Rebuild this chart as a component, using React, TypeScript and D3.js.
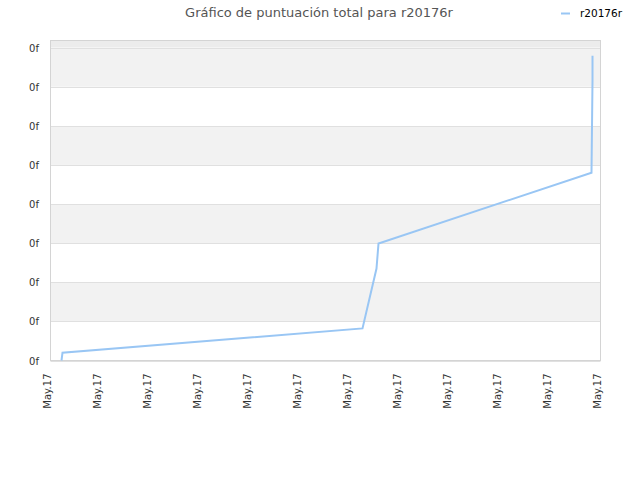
import { useEffect, useRef } from 'react';
import * as d3 from 'd3';

const titleText = 'Gráfico de puntuación total para r20176r';
const seriesName = 'r20176r';
const xTickLabels = ['May.17', 'May.17', 'May.17', 'May.17', 'May.17', 'May.17', 'May.17', 'May.17', 'May.17', 'May.17', 'May.17', 'May.17'];
const yTickLabels = ['0f', '0f', '0f', '0f', '0f', '0f', '0f', '0f', '0f'];
// x in tick units, y in grid units
const seriesX = [0.22, 0.24, 6.24, 6.52, 6.56, 10.82, 10.84, 10.84];
const seriesY = [0, 0.2, 0.82, 2.35, 2.99, 4.8, 7.15, 7.79];

const colors = {
  line: '#99c6f4',
  band: '#f2f2f2',
  grid: '#e0e0e0',
  border: '#d4d4d4',
  text: '#333333',
  title: '#555555',
};

export default function App() {
  const ref = useRef<SVGSVGElement>(null);

  useEffect(() => {
    const svg = d3.select(ref.current);
    svg.selectAll('*').remove();
    const left = 50.5;
    const right = 600.5;
    const top = 40.5;
    const bottom = 360.5;

    const x = d3.scaleLinear().domain([0, xTickLabels.length - 1]).range([left, right]);
    const y = d3.scaleLinear().domain([0, 8.18]).range([bottom, top]);
    const yTicks = d3.range(yTickLabels.length);

    // bands
    const bandEdges = [...yTicks, 8.18];
    svg
      .append('g')
      .selectAll('rect')
      .data(bandEdges.slice(0, -1))
      .enter()
      .append('rect')
      .attr('x', left)
      .attr('width', right - left)
      .attr('y', d => y(bandEdges[d + 1]))
      .attr('height', d => y(d) - y(bandEdges[d + 1]))
      .attr('fill', d => (d % 2 === 1 ? colors.band : 'white'));
    svg
      .append('rect')
      .attr('x', left)
      .attr('width', right - left)
      .attr('y', top)
      .attr('height', y(8) - top)
      .attr('fill', '#ececec');

    // gridlines
    svg
      .append('g')
      .selectAll('line')
      .data(yTicks)
      .enter()
      .append('line')
      .attr('x1', left)
      .attr('x2', right)
      .attr('y1', d => Math.round(y(d)) + 0.5)
      .attr('y2', d => Math.round(y(d)) + 0.5)
      .attr('stroke', colors.grid);

    // frame
    svg
      .append('rect')
      .attr('x', left)
      .attr('y', top)
      .attr('width', right - left)
      .attr('height', bottom - top)
      .attr('fill', 'none')
      .attr('stroke', colors.border);

    // y labels
    svg
      .append('g')
      .selectAll('text')
      .data(yTicks)
      .enter()
      .append('text')
      .attr('x', 39)
      .attr('y', d => Math.round(y(d)) + 4)
      .attr('text-anchor', 'end')
      .style('font-family', 'DejaVu Sans')
      .style('font-size', '10px')
      .attr('fill', colors.text)
      .text(d => yTickLabels[d]);

    // x labels
    svg
      .append('g')
      .selectAll('text')
      .data(xTickLabels)
      .enter()
      .append('text')
      .attr('transform', (d, i) => `translate(${x(i)},${bottom + 13}) rotate(-90)`)
      .attr('text-anchor', 'end')
      .style('font-family', 'DejaVu Sans')
      .style('font-size', '10px')
      .attr('fill', colors.text)
      .text(d => d);

    // series
    const line = d3
      .line<number>()
      .x((d, i) => x(seriesX[i]))
      .y(d => y(d));
    svg
      .append('path')
      .datum(seriesY)
      .attr('d', line)
      .attr('fill', 'none')
      .attr('stroke', colors.line)
      .attr('stroke-width', 2);

    // title
    svg
      .append('text')
      .attr('x', 319)
      .attr('y', 17)
      .attr('text-anchor', 'middle')
      .style('font-family', 'DejaVu Sans')
      .style('font-size', '13px')
      .attr('fill', colors.title)
      .text(titleText);

    // legend
    svg
      .append('line')
      .attr('x1', 561)
      .attr('x2', 570)
      .attr('y1', 13.5)
      .attr('y2', 13.5)
      .attr('stroke', colors.line)
      .attr('stroke-width', 2);
    svg
      .append('text')
      .attr('x', 580)
      .attr('y', 17)
      .style('font-family', 'DejaVu Sans')
      .style('font-size', '10.5px')
      .attr('fill', '#000')
      .text(seriesName);
  }, []);

  return (
    <svg
      ref={ref}
      width={640}
      height={480}
      style={{ position: 'absolute', left: 0, top: 0, background: 'white' }}
    />
  );
}
